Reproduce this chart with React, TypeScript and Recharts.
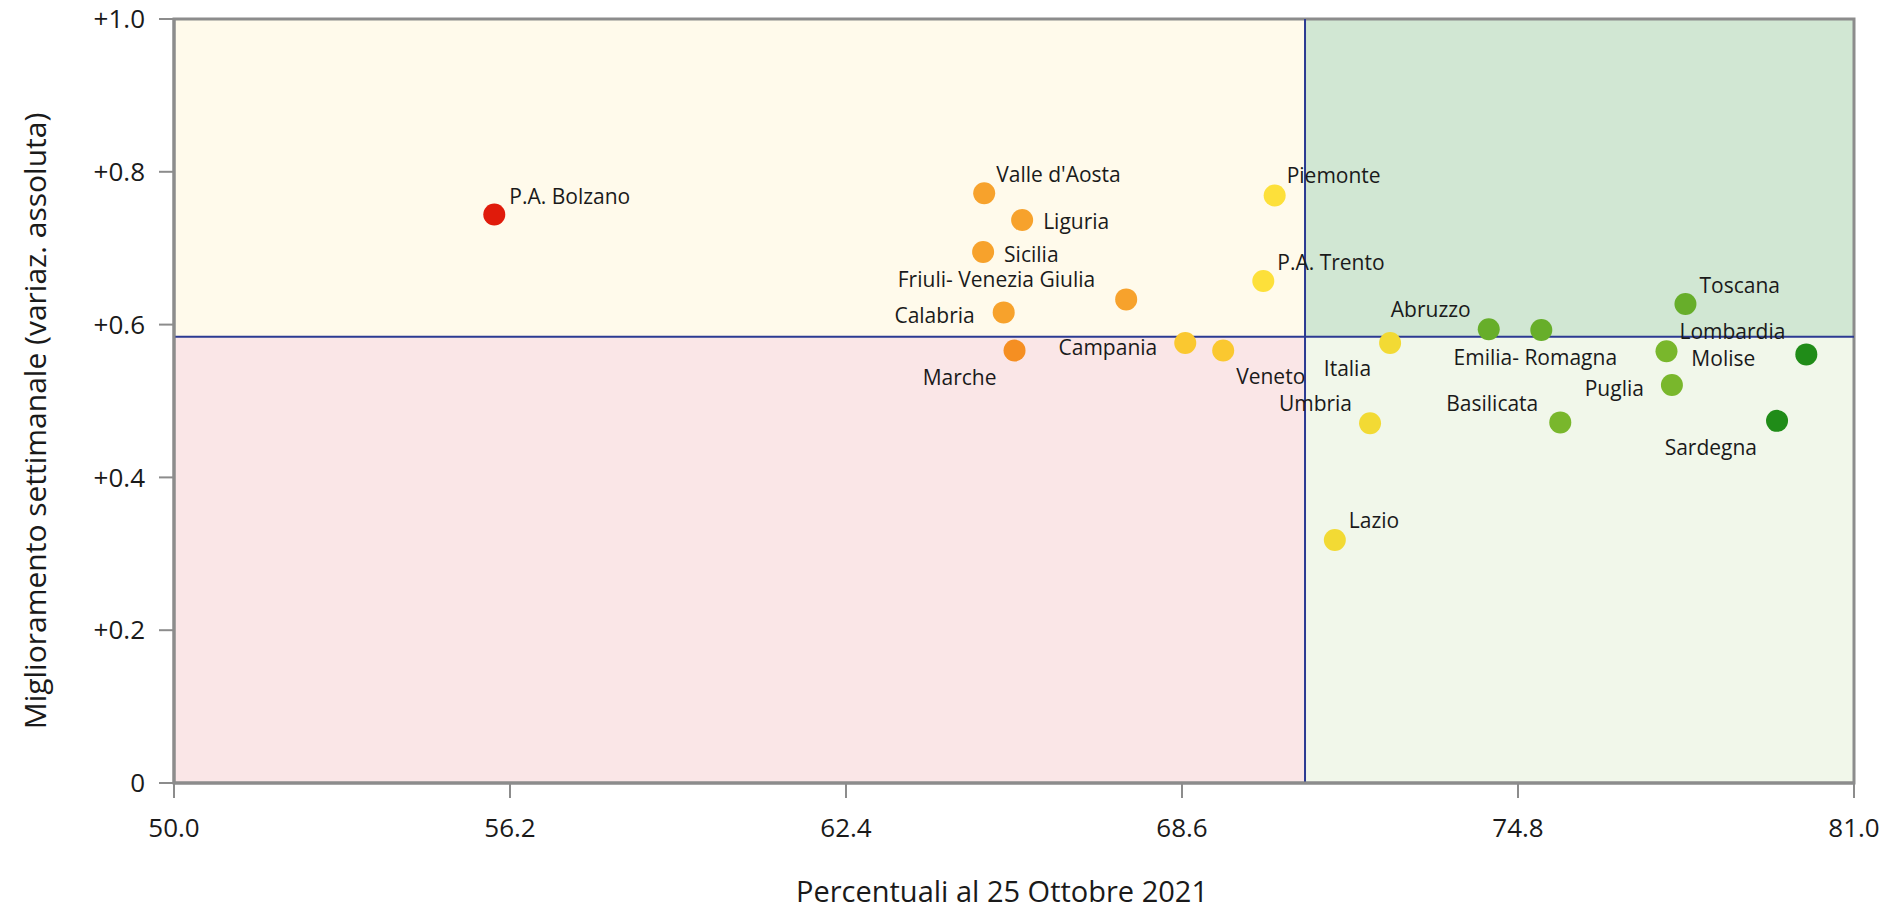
import {
  ReferenceArea,
  ReferenceLine,
  Scatter,
  ScatterChart,
  XAxis,
  YAxis,
} from 'recharts'

// Region names, % at 25 Oct 2021 (x) and weekly improvement (y)
const REGIONS = [
  'P.A. Bolzano',
  "Valle d'Aosta",
  'Liguria',
  'Sicilia',
  'Friuli- Venezia Giulia',
  'Calabria',
  'Marche',
  'Campania',
  'Veneto',
  'Piemonte',
  'P.A. Trento',
  'Italia',
  'Umbria',
  'Lazio',
  'Abruzzo',
  'Emilia- Romagna',
  'Basilicata',
  'Toscana',
  'Lombardia',
  'Molise',
  'Puglia',
  'Sardegna',
]
const PERCENT = [
  55.91, 64.95, 65.65, 64.93, 67.57, 65.31, 65.51, 68.66, 69.36, 70.31, 70.1,
  72.44, 72.07, 71.42, 74.26, 75.23, 75.58, 77.89, 77.54, 80.12, 77.64, 79.58,
]
const IMPROVEMENT = [
  0.744, 0.772, 0.737, 0.695, 0.633, 0.616, 0.566, 0.576, 0.566, 0.769, 0.657,
  0.576, 0.471, 0.318, 0.594, 0.593, 0.472, 0.627, 0.565, 0.561, 0.521, 0.474,
]

const X_TICKS = [50, 56.2, 62.4, 68.6, 74.8, 81]
const Y_TICKS = [0, 0.2, 0.4, 0.6, 0.8, 1]
const MEAN_PERCENT = 70.87
const MEAN_IMPROVEMENT = 0.584

const RED = '#e01b0b'
const ORANGE = '#f7a22c'
const DARK_ORANGE = '#f58f22'
const AMBER = '#fac830'
const YELLOW = '#fde03a'
const DULL_YELLOW = '#f2da34'
const GREEN = '#67ae2a'
const LIGHT_GREEN = '#79b72c'
const DARK_GREEN = '#208c18'

const DOT_COLORS: Record<string, string> = {
  'P.A. Bolzano': RED,
  "Valle d'Aosta": ORANGE,
  Liguria: ORANGE,
  Sicilia: ORANGE,
  'Friuli- Venezia Giulia': ORANGE,
  Calabria: ORANGE,
  Marche: DARK_ORANGE,
  Campania: AMBER,
  Veneto: AMBER,
  Piemonte: YELLOW,
  'P.A. Trento': YELLOW,
  Italia: DULL_YELLOW,
  Umbria: DULL_YELLOW,
  Lazio: DULL_YELLOW,
  Abruzzo: GREEN,
  'Emilia- Romagna': GREEN,
  Toscana: GREEN,
  Basilicata: LIGHT_GREEN,
  Lombardia: LIGHT_GREEN,
  Puglia: LIGHT_GREEN,
  Molise: DARK_GREEN,
  Sardegna: DARK_GREEN,
}

// where each label sits relative to its dot: [dx, dy, anchor]
const LABEL_PLACE: Record<string, [number, number, 'start' | 'middle' | 'end']> = {
  'P.A. Bolzano': [15, -11, 'start'],
  "Valle d'Aosta": [12, -11, 'start'],
  Liguria: [21, 9, 'start'],
  Sicilia: [21, 10, 'start'],
  'Friuli- Venezia Giulia': [-31, -12, 'end'],
  Calabria: [-29, 11, 'end'],
  Marche: [-18, 34, 'end'],
  Campania: [-28, 12, 'end'],
  Veneto: [13, 33, 'start'],
  Piemonte: [12, -12, 'start'],
  'P.A. Trento': [14, -11, 'start'],
  Italia: [-19, 33, 'end'],
  Umbria: [-18, -12, 'end'],
  Lazio: [14, -12, 'start'],
  Abruzzo: [-18, -12, 'end'],
  'Emilia- Romagna': [-6, 35, 'middle'],
  Basilicata: [-22, -11, 'end'],
  Toscana: [14, -11, 'start'],
  Lombardia: [13, -12, 'start'],
  Molise: [-51, 12, 'end'],
  Puglia: [-28, 11, 'end'],
  Sardegna: [-20, 34, 'end'],
}

const FONT = "'Open Sans', sans-serif"
const AXIS_GREY = '#8c8c8c'
const TEXT = '#1a1a1a'
const NAVY = '#2b3a92'

const points = REGIONS.map((name, i) => ({
  name,
  x: PERCENT[i],
  y: IMPROVEMENT[i],
}))

function Dot(props: any) {
  const { cx, cy, payload } = props
  const [dx, dy, anchor] = LABEL_PLACE[payload.name]
  return (
    <g>
      <circle cx={cx} cy={cy} r={11} fill={DOT_COLORS[payload.name]} />
      <text
        x={cx + dx}
        y={cy + dy}
        textAnchor={anchor}
        fontSize={21}
        fontFamily={FONT}
        fill={TEXT}
      >
        {payload.name}
      </text>
    </g>
  )
}

export default function App() {
  return (
    <div
      style={{
        position: 'absolute',
        left: 0,
        top: 0,
        width: 1885,
        height: 913,
        background: '#fff',
        fontFamily: FONT,
      }}
    >
      <ScatterChart
        width={1885}
        height={913}
        margin={{ top: 19, right: 31, bottom: 0, left: 0 }}
      >
        <ReferenceArea
          x1={50}
          x2={MEAN_PERCENT}
          y1={MEAN_IMPROVEMENT}
          y2={1}
          fill="#fffaeb"
          fillOpacity={1}
          stroke="none"
        />
        <ReferenceArea
          x1={MEAN_PERCENT}
          x2={81}
          y1={MEAN_IMPROVEMENT}
          y2={1}
          fill="#d1e7d3"
          fillOpacity={1}
          stroke="none"
        />
        <ReferenceArea
          x1={50}
          x2={MEAN_PERCENT}
          y1={0}
          y2={MEAN_IMPROVEMENT}
          fill="#fae6e7"
          fillOpacity={1}
          stroke="none"
        />
        <ReferenceArea
          x1={MEAN_PERCENT}
          x2={81}
          y1={0}
          y2={MEAN_IMPROVEMENT}
          fill="#f1f7ea"
          fillOpacity={1}
          stroke="none"
        />
        <ReferenceArea
          x1={50}
          x2={81}
          y1={0}
          y2={1}
          fill="none"
          stroke={AXIS_GREY}
          strokeWidth={3}
        />
        <XAxis
          type="number"
          dataKey="x"
          domain={[50, 81]}
          ticks={X_TICKS}
          tickFormatter={(v: number) => v.toFixed(1)}
          height={130}
          tickSize={15}
          tickMargin={21}
          axisLine={{ stroke: AXIS_GREY, strokeWidth: 3 }}
          tickLine={{ stroke: AXIS_GREY, strokeWidth: 2 }}
          tick={{ fill: TEXT, fontSize: 26, fontFamily: FONT }}
          label={{
            content: ({ viewBox }: any) => (
              <text
                x={viewBox.x + viewBox.width / 2 - 12}
                y={viewBox.y + 119}
                textAnchor="middle"
                fontSize={29}
                fontFamily={FONT}
                fill={TEXT}
              >
                Percentuali al 25 Ottobre 2021
              </text>
            ),
          }}
        />
        <YAxis
          type="number"
          dataKey="y"
          domain={[0, 1]}
          ticks={Y_TICKS}
          tickFormatter={(v: number) => (v === 0 ? '0' : '+' + v.toFixed(1))}
          width={174}
          tickSize={15}
          tickMargin={14}
          axisLine={{ stroke: AXIS_GREY, strokeWidth: 3 }}
          tickLine={{ stroke: AXIS_GREY, strokeWidth: 2 }}
          tick={{ fill: TEXT, fontSize: 26, fontFamily: FONT }}
          label={{
            content: ({ viewBox }: any) => {
              const cx = 34
              const cy = viewBox.y + viewBox.height / 2 + 20
              return (
                <text
                  x={cx}
                  y={cy}
                  textAnchor="middle"
                  dominantBaseline="central"
                  transform={`rotate(-90, ${cx}, ${cy})`}
                  fontSize={30}
                  fontFamily={FONT}
                  fill={TEXT}
                >
                  Miglioramento settimanale (variaz. assoluta)
                </text>
              )
            },
          }}
        />
        <ReferenceLine x={MEAN_PERCENT} stroke={NAVY} strokeWidth={2} />
        <ReferenceLine y={MEAN_IMPROVEMENT} stroke={NAVY} strokeWidth={2} />
        <Scatter data={points} shape={Dot} isAnimationActive={false} />
      </ScatterChart>
    </div>
  )
}
